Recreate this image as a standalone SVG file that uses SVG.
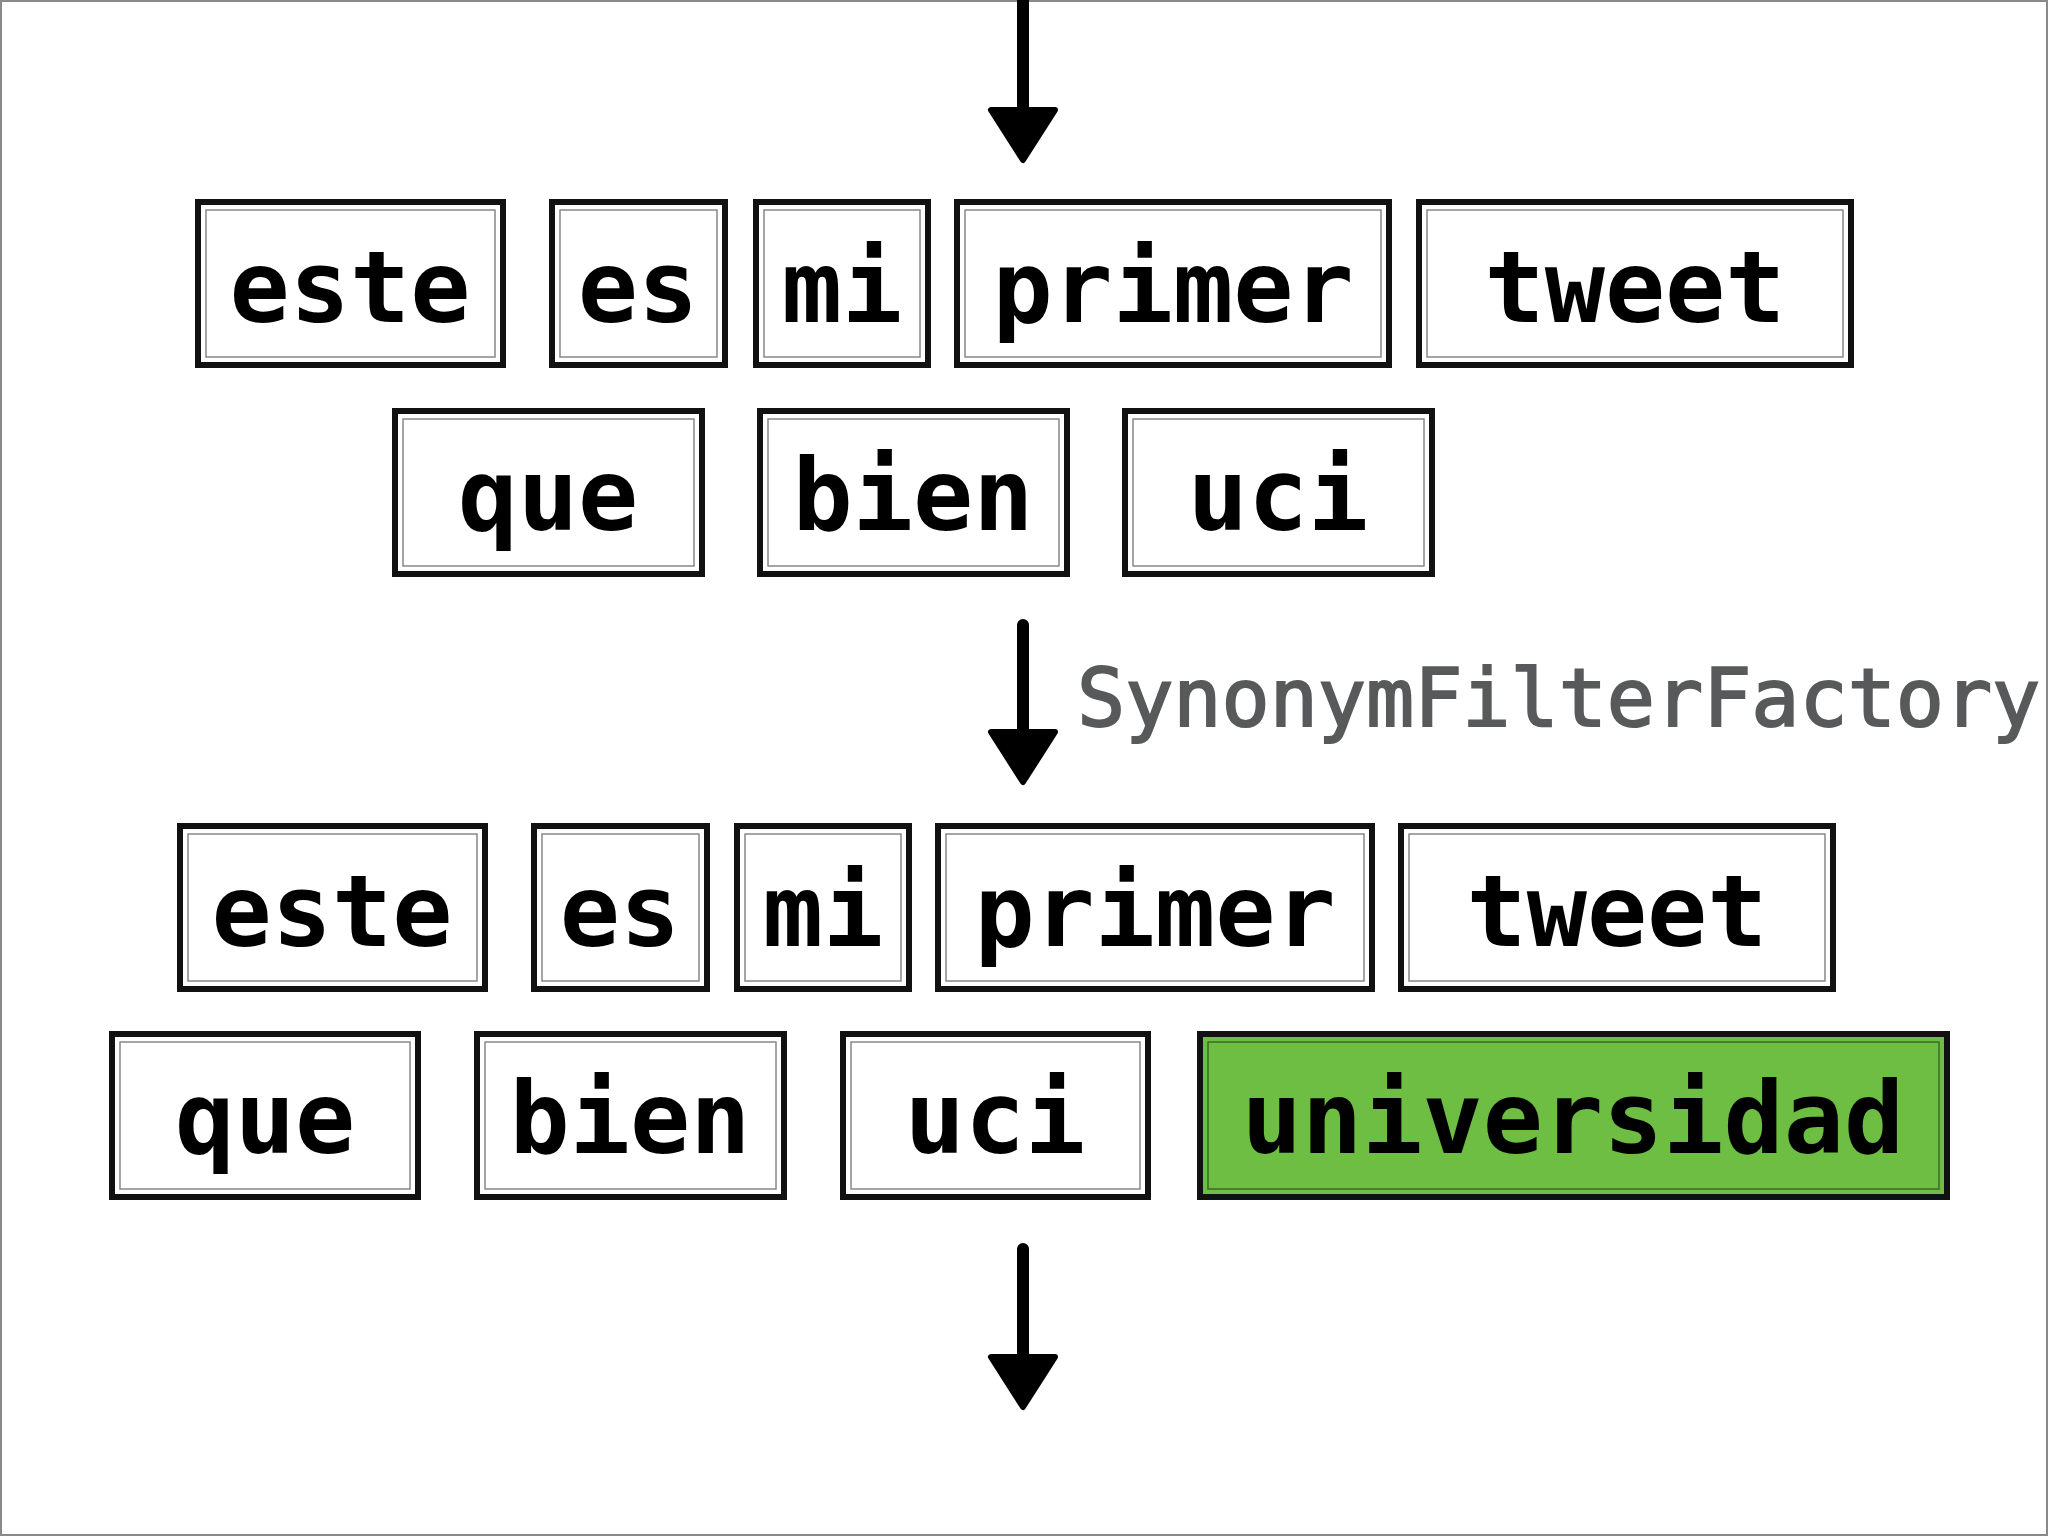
<svg xmlns="http://www.w3.org/2000/svg" width="2048" height="1536" viewBox="0 0 2048 1536">
<style>
.box{fill:#ffffff;stroke:#111111;stroke-width:6}
.hl{fill:#6fbe44;stroke:#111111;stroke-width:6}
.in{fill:none;stroke:#111111;stroke-width:1.5;opacity:0.5}
.tok{font-family:"DejaVu Sans Mono","Liberation Mono",monospace;font-weight:bold;font-size:100px;fill:#000000;text-anchor:middle}
.lbl{font-family:"DejaVu Sans Mono","Liberation Mono",monospace;font-size:80px;fill:#58595b;stroke:#58595b;stroke-width:2}
.shaft{stroke:#000000;stroke-width:12;stroke-linecap:round}
.head{fill:#000000;stroke:#000000;stroke-width:6;stroke-linejoin:round}
</style>
<rect x="0" y="0" width="2048" height="1536" fill="#ffffff"/>
<rect x="1" y="1" width="2046" height="1534" fill="none" stroke="#8a8a8a" stroke-width="2"/>

<g id="connectors">
  <g id="arrow1">
    <line class="shaft" x1="1023" y1="0" x2="1023" y2="120"/>
    <polygon class="head" points="991,110 1055,110 1023,160"/>
  </g>
  <g id="arrow2">
    <line class="shaft" x1="1023" y1="625" x2="1023" y2="740"/>
    <polygon class="head" points="991,732 1055,732 1023,782"/>
  </g>
  <g id="arrow3">
    <line class="shaft" x1="1023" y1="1249" x2="1023" y2="1365"/>
    <polygon class="head" points="991,1357 1055,1357 1023,1407"/>
  </g>
  <text id="label-synonym" class="lbl" x="1077" y="726">SynonymFilterFactory</text>
</g>

<!-- Row 1 -->
<g id="r1-este"><rect class="box" x="198" y="202" width="305" height="163"/><rect class="in" x="206" y="210" width="289" height="147"/><text class="tok" x="350" y="322">este</text></g>
<g id="r1-es"><rect class="box" x="552" y="202" width="173" height="163"/><rect class="in" x="560" y="210" width="157" height="147"/><text class="tok" x="638" y="322">es</text></g>
<g id="r1-mi"><rect class="box" x="756" y="202" width="172" height="163"/><rect class="in" x="764" y="210" width="156" height="147"/><text class="tok" x="842" y="322">mi</text></g>
<g id="r1-primer"><rect class="box" x="957" y="202" width="432" height="163"/><rect class="in" x="965" y="210" width="416" height="147"/><text class="tok" x="1173" y="322">primer</text></g>
<g id="r1-tweet"><rect class="box" x="1419" y="202" width="432" height="163"/><rect class="in" x="1427" y="210" width="416" height="147"/><text class="tok" x="1635" y="322">tweet</text></g>

<!-- Row 2 -->
<g id="r2-que"><rect class="box" x="395" y="411" width="307" height="163"/><rect class="in" x="403" y="419" width="291" height="147"/><text class="tok" x="548" y="530">que</text></g>
<g id="r2-bien"><rect class="box" x="760" y="411" width="307" height="163"/><rect class="in" x="768" y="419" width="291" height="147"/><text class="tok" x="913" y="530">bien</text></g>
<g id="r2-uci"><rect class="box" x="1125" y="411" width="307" height="163"/><rect class="in" x="1133" y="419" width="291" height="147"/><text class="tok" x="1278" y="530">uci</text></g>

<!-- Row 3 -->
<g id="r3-este"><rect class="box" x="180" y="826" width="305" height="163"/><rect class="in" x="188" y="834" width="289" height="147"/><text class="tok" x="332" y="946">este</text></g>
<g id="r3-es"><rect class="box" x="534" y="826" width="173" height="163"/><rect class="in" x="542" y="834" width="157" height="147"/><text class="tok" x="620" y="946">es</text></g>
<g id="r3-mi"><rect class="box" x="737" y="826" width="172" height="163"/><rect class="in" x="745" y="834" width="156" height="147"/><text class="tok" x="823" y="946">mi</text></g>
<g id="r3-primer"><rect class="box" x="938" y="826" width="434" height="163"/><rect class="in" x="946" y="834" width="418" height="147"/><text class="tok" x="1155" y="946">primer</text></g>
<g id="r3-tweet"><rect class="box" x="1401" y="826" width="432" height="163"/><rect class="in" x="1409" y="834" width="416" height="147"/><text class="tok" x="1617" y="946">tweet</text></g>

<!-- Row 4 -->
<g id="r4-que"><rect class="box" x="112" y="1034" width="306" height="163"/><rect class="in" x="120" y="1042" width="290" height="147"/><text class="tok" x="265" y="1153">que</text></g>
<g id="r4-bien"><rect class="box" x="477" y="1034" width="307" height="163"/><rect class="in" x="485" y="1042" width="291" height="147"/><text class="tok" x="630" y="1153">bien</text></g>
<g id="r4-uci"><rect class="box" x="843" y="1034" width="305" height="163"/><rect class="in" x="851" y="1042" width="289" height="147"/><text class="tok" x="995" y="1153">uci</text></g>
<g id="r4-universidad"><rect class="hl" x="1200" y="1034" width="747" height="163"/><rect class="in" x="1208" y="1042" width="731" height="147"/><text class="tok" x="1573" y="1153">universidad</text></g>
</svg>
